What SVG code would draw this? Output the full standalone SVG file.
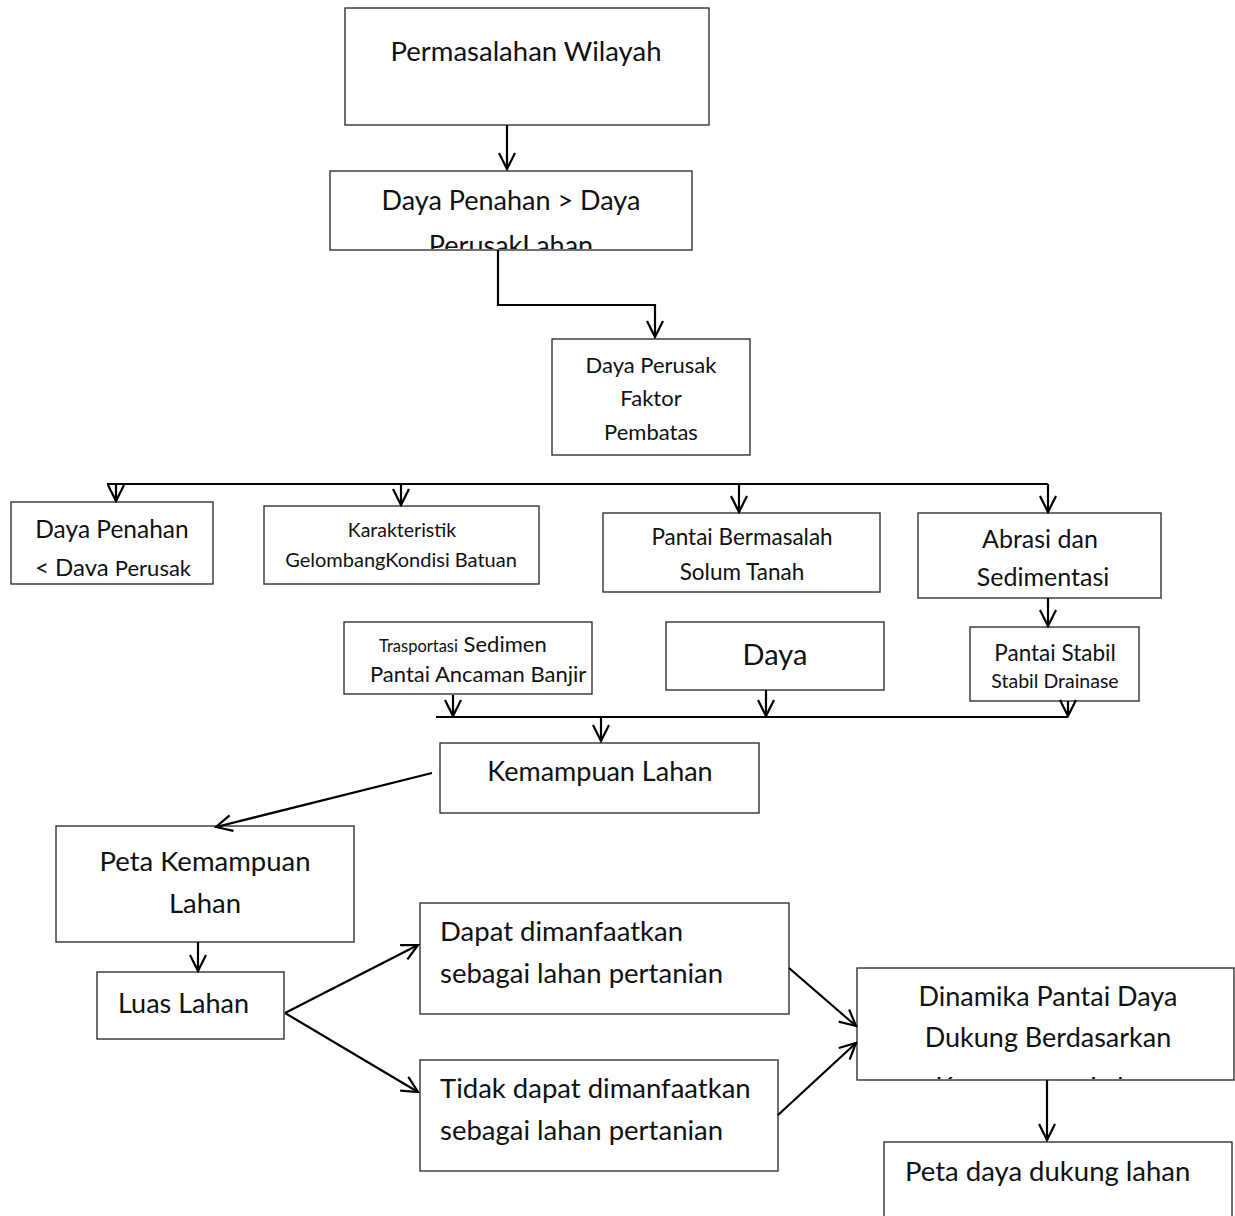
<svg xmlns="http://www.w3.org/2000/svg" width="1235" height="1216" viewBox="0 0 1235 1216">
<style>
.box{fill:#fff;stroke:#333;stroke-width:1.4}
.t{font-family:Lato,"Open Sans","Liberation Sans",sans-serif;fill:#111}
.c{text-anchor:middle}
.con{fill:none;stroke:#000;stroke-width:2.2}
</style>
<defs>
<marker id="ah" viewBox="0 0 20 20" refX="18" refY="10" markerWidth="20" markerHeight="20" markerUnits="userSpaceOnUse" orient="auto">
<path d="M2,2 L18,10 L2,18" fill="none" stroke="#000" stroke-width="2.2"/>
</marker>
<clipPath id="cp2"><rect x="331" y="172" width="360" height="77"/></clipPath>
<clipPath id="cpD"><rect x="858" y="969" width="376" height="110"/></clipPath>
</defs>
<rect width="1235" height="1216" fill="#fff"/>

<g id="n1">
<rect class="box" x="345" y="8" width="364" height="117"/>
<text class="t c" x="526" y="61" font-size="27.5">Permasalahan Wilayah</text>
</g>
<g id="n2">
<rect class="box" x="330" y="171" width="362" height="79"/>
<text class="t c" x="511" y="210" font-size="27">Daya Penahan &gt; Daya</text>
<text class="t c" x="511" y="255" font-size="27" clip-path="url(#cp2)">PerusakLahan</text>
</g>
<g id="n3">
<rect class="box" x="552" y="339" width="198" height="116"/>
<text class="t c" x="651" y="373" font-size="22">Daya Perusak</text>
<text class="t c" x="651" y="406" font-size="22">Faktor</text>
<text class="t c" x="651" y="440" font-size="22">Pembatas</text>
</g>
<g id="n4">
<rect class="box" x="11" y="502" width="202" height="82"/>
<text class="t c" x="112" y="538" font-size="24.5">Daya Penahan</text>
<text class="t c" x="113" y="576" font-size="24">&lt; Dava <tspan font-size="22">Perusak</tspan></text>
</g>
<g id="n5">
<rect class="box" x="264" y="506" width="275" height="78"/>
<text class="t c" x="402" y="537" font-size="19.5">Karakteristik</text>
<text class="t c" x="401" y="567" font-size="20">GelombangKondisi Batuan</text>
</g>
<g id="n6">
<rect class="box" x="603" y="513" width="277" height="79"/>
<text class="t c" x="742" y="545" font-size="22.5">Pantai Bermasalah</text>
<text class="t c" x="742" y="580" font-size="22.5">Solum Tanah</text>
</g>
<g id="n7">
<rect class="box" x="918" y="513" width="243" height="85"/>
<text class="t c" x="1040" y="548" font-size="25">Abrasi dan</text>
<text class="t c" x="1043" y="586" font-size="25">Sedimentasi</text>
</g>
<g id="n8">
<rect class="box" x="344" y="622" width="248" height="72"/>
<text class="t" x="379" y="652" font-size="22"><tspan font-size="16.5">Trasportasi</tspan> Sedimen</text>
<text class="t" x="370" y="682" font-size="22">Pantai Ancaman Banjir</text>
</g>
<g id="n9">
<rect class="box" x="666" y="622" width="218" height="68"/>
<text class="t c" x="775" y="665" font-size="29">Daya</text>
</g>
<g id="n10">
<rect class="box" x="970" y="627" width="169" height="74"/>
<text class="t c" x="1055" y="661" font-size="22.5">Pantai Stabil</text>
<text class="t c" x="1055" y="688" font-size="19.5">Stabil Drainase</text>
</g>
<g id="n11">
<rect class="box" x="440" y="743" width="319" height="70"/>
<text class="t c" x="600" y="781" font-size="27">Kemampuan Lahan</text>
</g>
<g id="n12">
<rect class="box" x="56" y="826" width="298" height="116"/>
<text class="t c" x="205" y="871" font-size="27.5">Peta Kemampuan</text>
<text class="t c" x="205" y="913" font-size="27.5">Lahan</text>
</g>
<g id="n13">
<rect class="box" x="97" y="972" width="187" height="67"/>
<text class="t" x="118" y="1013" font-size="27">Luas Lahan</text>
</g>
<g id="n14">
<rect class="box" x="420" y="903" width="369" height="111"/>
<text class="t" x="440" y="941" font-size="27.5">Dapat dimanfaatkan</text>
<text class="t" x="440" y="983" font-size="27.5">sebagai lahan pertanian</text>
</g>
<g id="n15">
<rect class="box" x="420" y="1060" width="358" height="111"/>
<text class="t" x="440" y="1098" font-size="27.5">Tidak dapat dimanfaatkan</text>
<text class="t" x="440" y="1140" font-size="27.5">sebagai lahan pertanian</text>
</g>
<g id="n16">
<rect class="box" x="857" y="968" width="377" height="112"/>
<text class="t c" x="1048" y="1006" font-size="27">Dinamika Pantai Daya</text>
<text class="t c" x="1048" y="1047" font-size="27">Dukung Berdasarkan</text>
<text class="t c" x="1048" y="1097" font-size="27" clip-path="url(#cpD)">Kemampuan Lahan</text>
</g>
<g id="n17">
<rect class="box" x="884" y="1142" width="348" height="80"/>
<text class="t" x="905" y="1181" font-size="27.5">Peta daya dukung lahan</text>
</g>

<g id="connectors">
<path class="con" d="M507,125 V169" marker-end="url(#ah)"/>
<path class="con" d="M498,250 V305 H655 V337" marker-end="url(#ah)"/>
<path class="con" d="M107,484 H1048"/>
<path class="con" d="M116,484 V501" marker-end="url(#ah)"/>
<path class="con" d="M401,484 V505" marker-end="url(#ah)"/>
<path class="con" d="M739,484 V512" marker-end="url(#ah)"/>
<path class="con" d="M1048,484 V512" marker-end="url(#ah)"/>
<path class="con" d="M1048,598 V626" marker-end="url(#ah)"/>
<path class="con" d="M436,717 H1068"/>
<path class="con" d="M453,695 V716" marker-end="url(#ah)"/>
<path class="con" d="M766,690 V716" marker-end="url(#ah)"/>
<path class="con" d="M1068,701 V716" marker-end="url(#ah)"/>
<path class="con" d="M601,717 V741" marker-end="url(#ah)"/>
<path class="con" d="M432,773 L216,827" marker-end="url(#ah)"/>
<path class="con" d="M198,942 V971" marker-end="url(#ah)"/>
<path class="con" d="M285,1013 L418,945" marker-end="url(#ah)"/>
<path class="con" d="M285,1013 L418,1092" marker-end="url(#ah)"/>
<path class="con" d="M789,968 L856,1026" marker-end="url(#ah)"/>
<path class="con" d="M778,1115 L856,1043" marker-end="url(#ah)"/>
<path class="con" d="M1047,1080 V1140" marker-end="url(#ah)"/>
</g>
</svg>
